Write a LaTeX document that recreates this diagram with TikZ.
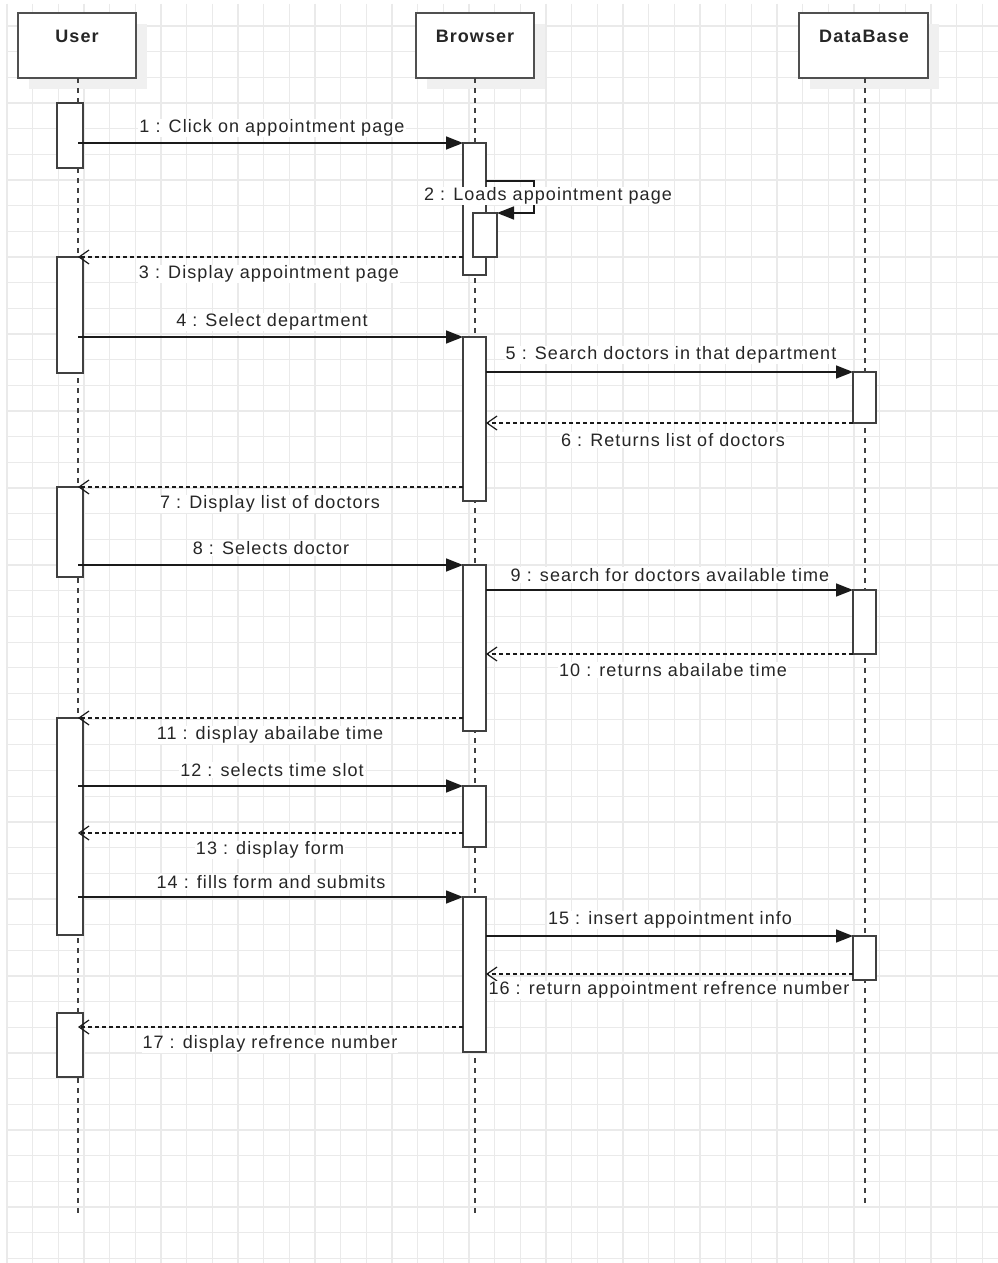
\documentclass[tikz,border=0pt]{standalone}
\usepackage{fontspec}
\setmainfont{Liberation Sans}[LetterSpace=6]
\usetikzlibrary{arrows.meta}
\definecolor{gridc}{HTML}{EAEAEA}
\definecolor{inkc}{HTML}{1A1A1A}
\definecolor{boxc}{HTML}{404040}
\definecolor{headc}{HTML}{505050}
\definecolor{txtc}{HTML}{262626}
\definecolor{shadowc}{HTML}{F0F0F0}
\begin{document}
\begin{tikzpicture}[x=1pt,y=-1pt,
  gridline/.style={draw=gridc, line width=1.3pt},
  head/.style={draw=headc, fill=white, line width=1.8pt, minimum height=65pt,
    anchor=north west, inner sep=0pt, outer sep=0pt},
  headtxt/.style={text=txtc, inner sep=0pt, font=\fontsize{18}{21}\selectfont\bfseries},
  lifeline/.style={draw=boxc, line width=1.4pt, dash pattern=on 4.5pt off 5.5pt},
  act/.style={draw=boxc, fill=white, line width=1.5pt, anchor=north west,
    inner sep=0pt, outer sep=0pt},
  call/.style={draw=inkc, line width=1.5pt, -{Triangle[length=17pt,width=13pt]}},
  ret/.style={draw=inkc, line width=1.2pt, dash pattern=on 4pt off 3pt,
    -{Straight Barb[length=10pt,width=14pt,line width=1.2pt]}},
  lbl/.style={fill=white, text=txtc, inner sep=1pt, font=\fontsize{18}{21}\selectfont}]

\useasboundingbox (0,0) rectangle (998,1263);
\fill[white] (0,0) rectangle (998,1263);

% background grid
\foreach \i in {0,...,38}
  \draw[gridline] ({7+\i*25.67},4) -- ({7+\i*25.67},1263);
\foreach \j in {1,...,49}
  \draw[gridline] (7,{0.4+\j*25.67}) -- (998,{0.4+\j*25.67});

% header shadows
\fill[shadowc] (29,24) rectangle (147,89);
\fill[shadowc] (427,24) rectangle (545,89);
\fill[shadowc] (810,24) rectangle (939,89);

% lifeline heads
\node[head, minimum width=118pt] (user) at (18,13) {};
\node[head, minimum width=118pt] (browser) at (416,13) {};
\node[head, minimum width=129pt] (db) at (799,13) {};
\node[headtxt] (userT) at (77,36) {User};
\node[headtxt] (browserT) at (475,36) {Browser};
\node[headtxt] (dbT) at (864,36) {DataBase};

% lifeline axes
\coordinate (uL) at (78,0);
\coordinate (bL) at (475,0);
\coordinate (dL) at (865,0);
\coordinate (uEnd) at (78,1218);
\coordinate (bEnd) at (475,1218);
\coordinate (dEnd) at (865,1205);
\draw[lifeline] (user.south -| uL) -- (uEnd);
\draw[lifeline] (browser.south -| bL) -- (bEnd);
\draw[lifeline] (db.south -| dL) -- (dEnd);

% activation bars
\node[act, minimum width=26pt, minimum height=65pt]  (U1) at (57,103) {};
\node[act, minimum width=26pt, minimum height=116pt] (U2) at (57,257) {};
\node[act, minimum width=26pt, minimum height=90pt]  (U3) at (57,487) {};
\node[act, minimum width=26pt, minimum height=217pt] (U4) at (57,718) {};
\node[act, minimum width=26pt, minimum height=64pt]  (U5) at (57,1013) {};
\node[act, minimum width=23pt, minimum height=132pt] (B1) at (463,143) {};
\node[act, minimum width=24pt, minimum height=44pt]  (B1a) at (473,213) {};
\node[act, minimum width=23pt, minimum height=164pt] (B2) at (463,337) {};
\node[act, minimum width=23pt, minimum height=166pt] (B3) at (463,565) {};
\node[act, minimum width=23pt, minimum height=61pt]  (B4) at (463,786) {};
\node[act, minimum width=23pt, minimum height=155pt] (B5) at (463,897) {};
\node[act, minimum width=23pt, minimum height=51pt]  (D1) at (853,372) {};
\node[act, minimum width=23pt, minimum height=64pt]  (D2) at (853,590) {};
\node[act, minimum width=23pt, minimum height=44pt]  (D3) at (853,936) {};

% message rows not on a bar edge
\coordinate (m2) at (0,181);
\coordinate (selfR) at (534,0);
\coordinate (m13) at (0,833);
\coordinate (m16) at (0,974);
\coordinate (m17) at (0,1027);

% messages
\draw[call] (B1.north west -| uL) -- (B1.north west);
\draw[call] (m2 -| B1.east) -- (m2 -| selfR) |- (B1a.north east);
\draw[ret]  (U2.north -| B1.west) -- (U2.north -| uL);
\draw[call] (B2.north west -| uL) -- (B2.north west);
\draw[call] (D1.north west -| B2.east) -- (D1.north west);
\draw[ret]  (D1.south west) -- (D1.south west -| B2.east);
\draw[ret]  (U3.north -| B2.west) -- (U3.north -| uL);
\draw[call] (B3.north west -| uL) -- (B3.north west);
\draw[call] (D2.north west -| B3.east) -- (D2.north west);
\draw[ret]  (D2.south west) -- (D2.south west -| B3.east);
\draw[ret]  (U4.north -| B3.west) -- (U4.north -| uL);
\draw[call] (B4.north west -| uL) -- (B4.north west);
\draw[ret]  (m13 -| B4.west) -- (m13 -| uL);
\draw[call] (B5.north west -| uL) -- (B5.north west);
\draw[call] (D3.north west -| B5.east) -- (D3.north west);
\draw[ret]  (m16 -| D3.west) -- (m16 -| B5.east);
\draw[ret]  (m17 -| B5.west) -- (m17 -| uL);

% message labels
\node[lbl] (l1)  at (272,128)  {1 : Click on appointment page};
\node[lbl] (l2)  at (548,196)  {2 : Loads appointment page};
\node[lbl] (l3)  at (269,274)  {3 : Display appointment page};
\node[lbl] (l4)  at (272,322)  {4 : Select department};
\node[lbl] (l5)  at (671,355)  {5 : Search doctors in that department};
\node[lbl] (l6)  at (673,440)  {6 : Returns list of doctors};
\node[lbl] (l7)  at (270,504)  {7 : Display list of doctors};
\node[lbl] (l8)  at (271,548)  {8 : Selects doctor};
\node[lbl] (l9)  at (670,575)  {9 : search for doctors available time};
\node[lbl] (l10) at (673,670)  {10 : returns abailabe time};
\node[lbl] (l11) at (270,735)  {11 : display abailabe time};
\node[lbl] (l12) at (272,770)  {12 : selects time slot};
\node[lbl] (l13) at (270,850)  {13 : display form};
\node[lbl] (l14) at (271,882)  {14 : fills form and submits};
\node[lbl] (l15) at (670,920)  {15 : insert appointment info};
\node[lbl] (l16) at (669,990)  {16 : return appointment refrence number};
\node[lbl] (l17) at (270,1044) {17 : display refrence number};
\end{tikzpicture}
\end{document}
